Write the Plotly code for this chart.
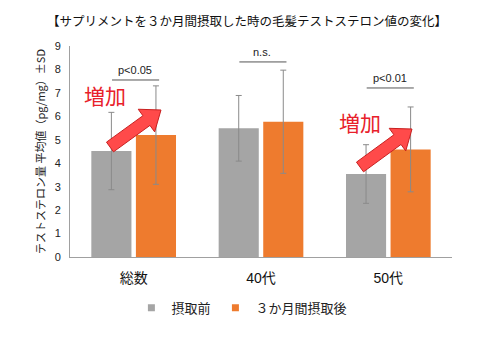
import numpy as np
import plotly.graph_objects as go

categories = ["総数", "40代", "50代"]
before_vals = [4.52, 5.49, 3.54]
before_sd = [1.65, 1.40, 1.25]
after_vals = [5.20, 5.77, 4.59]
after_sd = [2.10, 2.20, 1.81]
series_names = ["摂取前", "３か月間摂取後"]
series_colors = ["#A5A5A5", "#EE7B2E"]
sig_labels = ["p<0.05", "n.s.", "p<0.01"]
sig_line_y = [7.55, 8.32, 7.21]

W, H = 485, 344
ML, MR, MT, MB = 70, 33, 46, 87
PW, PH = W - ML - MR, H - MT - MB

FONT = "Liberation Sans, Arial, Noto Sans CJK JP"

fig = go.Figure()
for vals, sd, name, col in [(before_vals, before_sd, series_names[0], series_colors[0]),
                            (after_vals, after_sd, series_names[1], series_colors[1])]:
    fig.add_trace(go.Bar(
        x=categories, y=vals, name=name, showlegend=False,
        marker=dict(color=col, line=dict(width=0)),
        error_y=dict(type="data", array=sd, visible=True,
                     color="#8A8A8A", thickness=1, width=3),
    ))
# legend proxies with small square markers
for name, col in zip(series_names, series_colors):
    fig.add_trace(go.Scatter(
        x=[None], y=[None], mode="markers", name=name,
        marker=dict(symbol="square", size=7, color=col),
    ))

shapes = []
annotations = []
for i, (lab, ly) in enumerate(zip(sig_labels, sig_line_y)):
    shapes.append(dict(type="line", xref="x", yref="y",
                       x0=i - 0.17, x1=i + 0.2, y0=ly, y1=ly,
                       line=dict(color="#555555", width=1)))
    annotations.append(dict(x=i + 0.01, y=ly, xref="x", yref="y",
                            text=lab, showarrow=False, yanchor="bottom",
                            yshift=2, font=dict(size=11, color="#222222", family=FONT)))


def arrow_path(p0, p1, shaft=6.0, head=14.0, head_len=18.0):
    p0 = np.array(p0, float)
    p1 = np.array(p1, float)
    d = p1 - p0
    u = d / np.linalg.norm(d)
    n = np.array([-u[1], u[0]])
    b = p1 - u * head_len
    pts = [p0 + n * shaft, b + n * shaft, b + n * head, p1,
           b - n * head, b - n * shaft, p0 - n * shaft]
    conv = [((px - ML) / PW, (H - MB - py) / PH) for px, py in pts]
    return "M " + " L ".join(f"{x:.4f},{y:.4f}" for x, y in conv) + " Z"


for p0, p1 in [((110, 147), (161, 110)), ((360, 167), (412, 129))]:
    shapes.append(dict(type="path", xref="paper", yref="paper",
                       path=arrow_path(p0, p1),
                       fillcolor="#FF4A4A", line=dict(color="#C82020", width=1)))

for px, py in [(105, 95), (360, 122)]:
    annotations.append(dict(x=(px - ML) / PW, y=(H - MB - py) / PH,
                            xref="paper", yref="paper", text="増加",
                            showarrow=False, xanchor="center", yanchor="middle",
                            font=dict(size=21, color="#E8202A", family="Noto Sans CJK JP")))

annotations.append(dict(x=(247 - ML) / PW, y=(H - 20 - MB) / PH, xref="paper", yref="paper",
                        text="【サプリメントを３か月間摂取した時の毛髪テストステロン値の変化】",
                        showarrow=False, xanchor="center", yanchor="middle",
                        font=dict(size=12.5, color="#111111", family="Noto Sans CJK JP")))

fig.update_layout(
    width=W, height=H,
    margin=dict(l=ML, r=MR, t=MT, b=MB),
    paper_bgcolor="white", plot_bgcolor="white",
    barmode="group", bargap=0.3, bargroupgap=0.1,
    font=dict(family=FONT, color="#222222"),
    showlegend=True,
    legend=dict(orientation="h", x=0.45, xanchor="center", y=-0.17, yanchor="top",
                font=dict(size=13, family=FONT, color="#222222"),
                itemwidth=30, traceorder="normal"),
    xaxis=dict(showline=True, linecolor="#A0A0A0", linewidth=1, ticks="",
               tickfont=dict(size=14, family=FONT, color="#111111"),
               ticklabelstandoff=8, showgrid=False),
    yaxis=dict(range=[0, 9], dtick=1, showline=True, linecolor="#A0A0A0", linewidth=1,
               showgrid=False, zeroline=False, ticks="", ticklabelstandoff=6,
               tickfont=dict(size=11, family=FONT, color="#222222"),
               title=dict(text="テストステロン量 平均値（pg/mg）±SD",
                          font=dict(size=11, family="Noto Sans CJK JP", color="#222222"),
                          standoff=6)),
    shapes=shapes, annotations=annotations,
)

fig.write_html("out.html")
